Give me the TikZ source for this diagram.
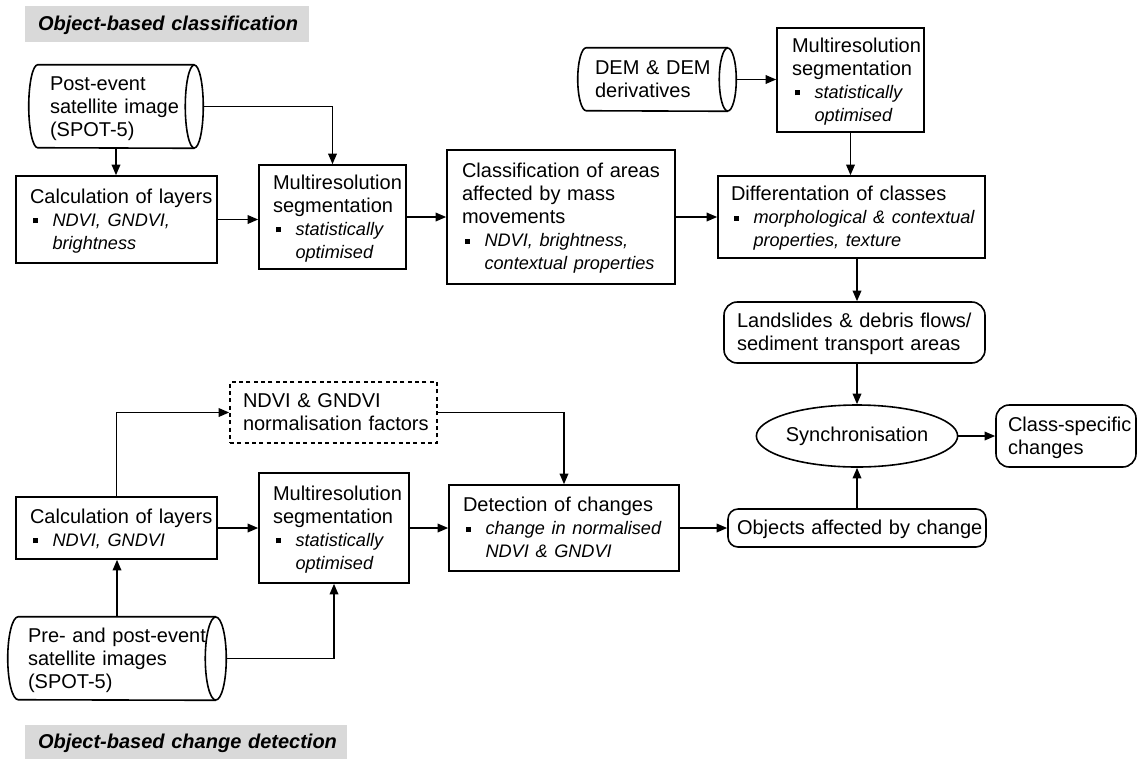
\documentclass[tikz,border=0pt]{standalone}
\usepackage{fontspec}
\setmainfont{Liberation Sans}
\usetikzlibrary{arrows.meta,shapes.geometric,calc}
\setlength\parindent{0pt}
\newcommand\bitem{\makebox[16.9pt][l]{\hspace{2.25pt}\rule[2pt]{3.8pt}{3.8pt}}}
\newcommand\bcont{\hspace*{16.9pt}}
\newcommand\bi[1]{{\fontsize{13.6}{17.25}\selectfont\itshape #1}}
\newcommand\tl[1]{\begin{tabular}{@{}l@{}}\rule{0pt}{15pt}#1\end{tabular}}
\newcommand\cylbody[3]{%
  \draw[line width=1.2pt] ([xshift=-#2]#1.north east) -- ([xshift=#2]#1.north west)
    arc[start angle=90,end angle=270,x radius=#2,y radius=#3] -- ([xshift=-#2]#1.south east);
  \draw[line width=1.2pt] ([xshift=-#2]#1.east) ellipse[x radius=#2,y radius=#3];}
\tikzset{
  base/.style={font=\fontsize{15}{17.25}\selectfont, align=left, inner ysep=0pt, text=black},
  box/.style={base, draw, rectangle, line width=1.2pt},
  rbox/.style={box, rounded corners=#1},
  dbox/.style={box, dash pattern=on 3pt off 2.5pt},
  cyl/.style={base, rectangle, draw=none},
  ttl/.style={base, rectangle, fill=gray!30, font=\fontsize{15}{17.25}\selectfont\bfseries\itshape},
  arr/.style={line width=1.2pt, -{Triangle[length=8pt,width=6.5pt]}},
}
\begin{document}
\begin{tikzpicture}[x=0.75pt,y=-0.75pt]
\useasboundingbox (0,0) rectangle (1137,758);
% titles
\node[ttl, minimum width=213pt, minimum height=27pt, text width=193.5pt, inner xsep=9.75pt] (t1) at (167,24) {\tl{Object-based classification}};
\node[ttl, minimum width=241.5pt, minimum height=25.5pt, text width=222pt, inner xsep=9.75pt] (t2) at (186,742) {\tl{Object-based change detection}};
% top part
\node[cyl, minimum width=130.5pt, minimum height=62.25pt, text width=99pt, inner xsep=15.75pt] (cyl1) at (116,106.5) {\tl{Post-event\\satellite image\\(SPOT-5)}};
\cylbody{cyl1}{6.75pt}{31.125pt}
\node[box, minimum width=150.75pt, minimum height=65.25pt, text width=129.75pt, inner xsep=10.5pt] (A) at (116.5,219.5)
  {\tl{Calculation of layers\\\bitem\bi{NDVI, GNDVI,}\\\bcont\bi{brightness}}};
\node[box, minimum width=110.25pt, minimum height=78pt, text width=89.25pt, inner xsep=10.5pt] (B) at (332.5,217)
  {\tl{Multiresolution\\segmentation\\\bitem\bi{statistically}\\\bcont\bi{optimised}}};
\node[box, minimum width=171pt, minimum height=100.5pt, text width=148.5pt, inner xsep=11.25pt] (C) at (561,217)
  {\tl{Classification of areas\\affected by mass\\movements\\\bitem\bi{NDVI, brightness,}\\\bcont\bi{contextual properties}}};
\node[box, minimum width=200.25pt, minimum height=61.5pt, text width=180.75pt, inner xsep=9.75pt] (D) at (851.5,217)
  {\tl{Differentation of classes\\\bitem\bi{morphological \& contextual}\\\bcont\bi{properties, texture}}};
\node[cyl, minimum width=118.5pt, minimum height=47.25pt, text width=93pt, inner xsep=12.75pt] (dem) at (657,79.5) {\tl{DEM \& DEM\\derivatives}};
\cylbody{dem}{6.375pt}{23.625pt}
\node[box, minimum width=110.25pt, minimum height=78pt, text width=87.75pt, inner xsep=11.25pt] (E) at (850.5,80)
  {\tl{Multiresolution\\segmentation\\\bitem\bi{statistically}\\\bcont\bi{optimised}}};
\node[rbox=10pt, minimum width=195.75pt, minimum height=45.75pt, text width=176.25pt, inner xsep=9.75pt] (land) at (854.5,332.5)
  {\tl{Landslides \& debris flows/\\sediment transport areas}};
\node[base, draw, line width=1.2pt, ellipse, minimum width=138pt, minimum height=46.5pt, inner sep=0pt, align=center] (sync) at (857,436) {Synchronisation};
\node[rbox=10pt, minimum width=105pt, minimum height=46.5pt, text width=87pt, inner xsep=9pt] (cls) at (1066,436) {\tl{Class-specific\\changes}};
% bottom part
\node[rbox=7.5pt, minimum width=193.5pt, minimum height=28.5pt, text width=180pt, inner xsep=6.75pt] (obj) at (857,528) {\tl{Objects affected by change}};
\node[dbox, minimum width=155.25pt, minimum height=45.75pt, text width=135.75pt, inner xsep=9.75pt] (norm) at (333.5,412.5)
  {\tl{NDVI \& GNDVI\\normalisation factors}};
\node[box, minimum width=150.75pt, minimum height=46.5pt, text width=129.75pt, inner xsep=10.5pt] (calc2) at (116.5,528)
  {\tl{Calculation of layers\\\bitem\bi{NDVI, GNDVI}}};
\node[box, minimum width=112.5pt, minimum height=82.5pt, text width=91.5pt, inner xsep=10.5pt] (B2) at (334,528)
  {\tl{Multiresolution\\segmentation\\\bitem\bi{statistically}\\\bcont\bi{optimised}}};
\node[box, minimum width=172.5pt, minimum height=64.5pt, text width=151.5pt, inner xsep=10.5pt] (det) at (564,528)
  {\tl{Detection of changes\\\bitem\bi{change in normalised}\\\bcont\bi{NDVI \& GNDVI}}};
\node[cyl, minimum width=163.5pt, minimum height=62.25pt, text width=133.5pt, inner xsep=15pt] (cyl2) at (117,658.5)
  {\tl{Pre- and post-event\\satellite images\\(SPOT-5)}};
\cylbody{cyl2}{7.875pt}{31.125pt}
% connectors
\draw[arr] (cyl1.south) -- (cyl1.south |- A.north);
\draw[arr] (cyl1.east) -| (B.north);
\draw[arr] (A.east) -- (A.east -| B.west);
\draw[arr] (B.east) -- (B.east -| C.west);
\draw[arr] (C.east) -- (C.east -| D.west);
\draw[arr] (dem.east) -- (dem.east -| E.west);
\draw[arr] (E.south) -- (E.south |- D.north);
\draw[arr] (D.south -| sync.north) -- (land.north -| sync.north);
\draw[arr] (land.south -| sync.north) -- (sync.north);
\draw[arr] (sync.east) -- (cls.west);
\draw[arr] (obj.north) -- (sync.south);
\draw[arr] (det.east) -- (obj.west);
\draw[arr] (calc2.north) |- (norm.west);
\draw[arr] (norm.east) -| (det.north);
\draw[arr] (calc2.east) -- (calc2.east -| B2.west);
\draw[arr] (B2.east) -- (B2.east -| det.west);
\draw[arr] (cyl2.north) -- (cyl2.north |- calc2.south);
\draw[arr] (cyl2.east) -| (B2.south);
\end{tikzpicture}
\end{document}
